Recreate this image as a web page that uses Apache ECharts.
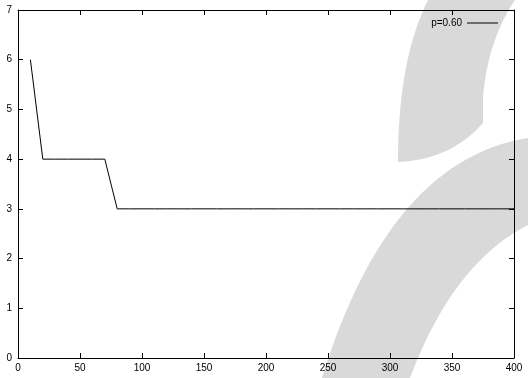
<!DOCTYPE html>
<html>
<head>
<meta charset="utf-8">
<script src="https://cdn.jsdelivr.net/npm/echarts@6/dist/echarts.min.js"></script>
<style>
html,body{margin:0;padding:0;background:#fff;}
#chart{width:528px;height:378px;}
</style>
</head>
<body>
<div id="chart"></div>
<script>
var seriesName = 'p=0.60';
var xValues = [10,20,30,40,50,60,70,80,90,100,110,120,130,140,150,160,170,180,190,200,210,220,230,240,250,260,270,280,290,300,310,320,330,340,350,360,370,380,390,400];
var yValues = [6,4,4,4,4,4,4,3,3,3,3,3,3,3,3,3,3,3,3,3,3,3,3,3,3,3,3,3,3,3,3,3,3,3,3,3,3,3,3,3];
var xTicks = [0,50,100,150,200,250,300,350,400];
var yTicks = [0,1,2,3,4,5,6,7];

var FONT = '"Liberation Sans", Arial, Helvetica, sans-serif';

// decorative watermark outline helpers (quadratic curve sampling)
function quad(p0, c, p1, n){
  var pts=[];
  for(var i=0;i<=n;i++){var t=i/n,u=1-t;
    pts.push([u*u*p0[0]+2*u*t*c[0]+t*t*p1[0], u*u*p0[1]+2*u*t*c[1]+t*t*p1[1]]);}
  return pts;
}
var wm1 = [].concat(
  quad([322,378],[389,160],[528,138],30),
  [[540,136],[540,222]],
  quad([528,225],[453,263],[410,378],30)
);
var wm2 = [].concat(
  quad([428,0],[398,60],[398,162],20),
  quad([398,162],[450,160],[483,123],15),
  quad([483,97],[488,40],[515,0],20)
);

var chart = echarts.init(document.getElementById('chart'), null, {renderer:'canvas'});
var data = xValues.map(function(x,i){return [x,yValues[i]];});
var axisLine = {show:true, onZero:false, lineStyle:{color:'#000', width:1}};
var tick = {show:true, inside:true, length:5, lineStyle:{color:'#000', width:1}};
var lbl = {color:'#000', fontSize:10, fontFamily:FONT};
chart.setOption({
  animation:false,
  backgroundColor:'#fff',
  graphic:[
    {type:'polygon', z:-10, silent:true, shape:{points:wm1}, style:{fill:'#d9d9d9'}},
    {type:'polygon', z:-10, silent:true, shape:{points:wm2}, style:{fill:'#d9d9d9'}}
  ],
  grid:{left:18, right:14, top:10, bottom:20, containLabel:false},
  legend:{
    show:true, right:25, top:13, align:'right', itemWidth:31, itemHeight:1,
    textStyle:{color:'#000', fontSize:10, fontFamily:FONT},
    data:[{name:seriesName, icon:'rect', itemStyle:{color:'#000'}}]
  },
  xAxis:[
    {type:'value', min:xTicks[0], max:xTicks[xTicks.length-1], interval:50, position:'bottom',
     axisLine:axisLine, axisTick:tick, splitLine:{show:false},
     axisLabel:Object.assign({margin:5}, lbl)},
    {type:'value', min:xTicks[0], max:xTicks[xTicks.length-1], interval:50, position:'top',
     axisLine:axisLine, axisTick:tick, splitLine:{show:false}, axisLabel:{show:false}}
  ],
  yAxis:[
    {type:'value', min:yTicks[0], max:yTicks[yTicks.length-1], interval:1, position:'left',
     axisLine:axisLine, axisTick:tick, splitLine:{show:false},
     axisLabel:Object.assign({margin:6}, lbl)},
    {type:'value', min:yTicks[0], max:yTicks[yTicks.length-1], interval:1, position:'right',
     axisLine:axisLine, axisTick:tick, splitLine:{show:false}, axisLabel:{show:false}}
  ],
  series:[{
    name:seriesName, type:'line', data:data, showSymbol:false, symbol:'none',
    lineStyle:{color:'#000', width:1}, itemStyle:{color:'#000'}
  }]
});
</script>
</body>
</html>
